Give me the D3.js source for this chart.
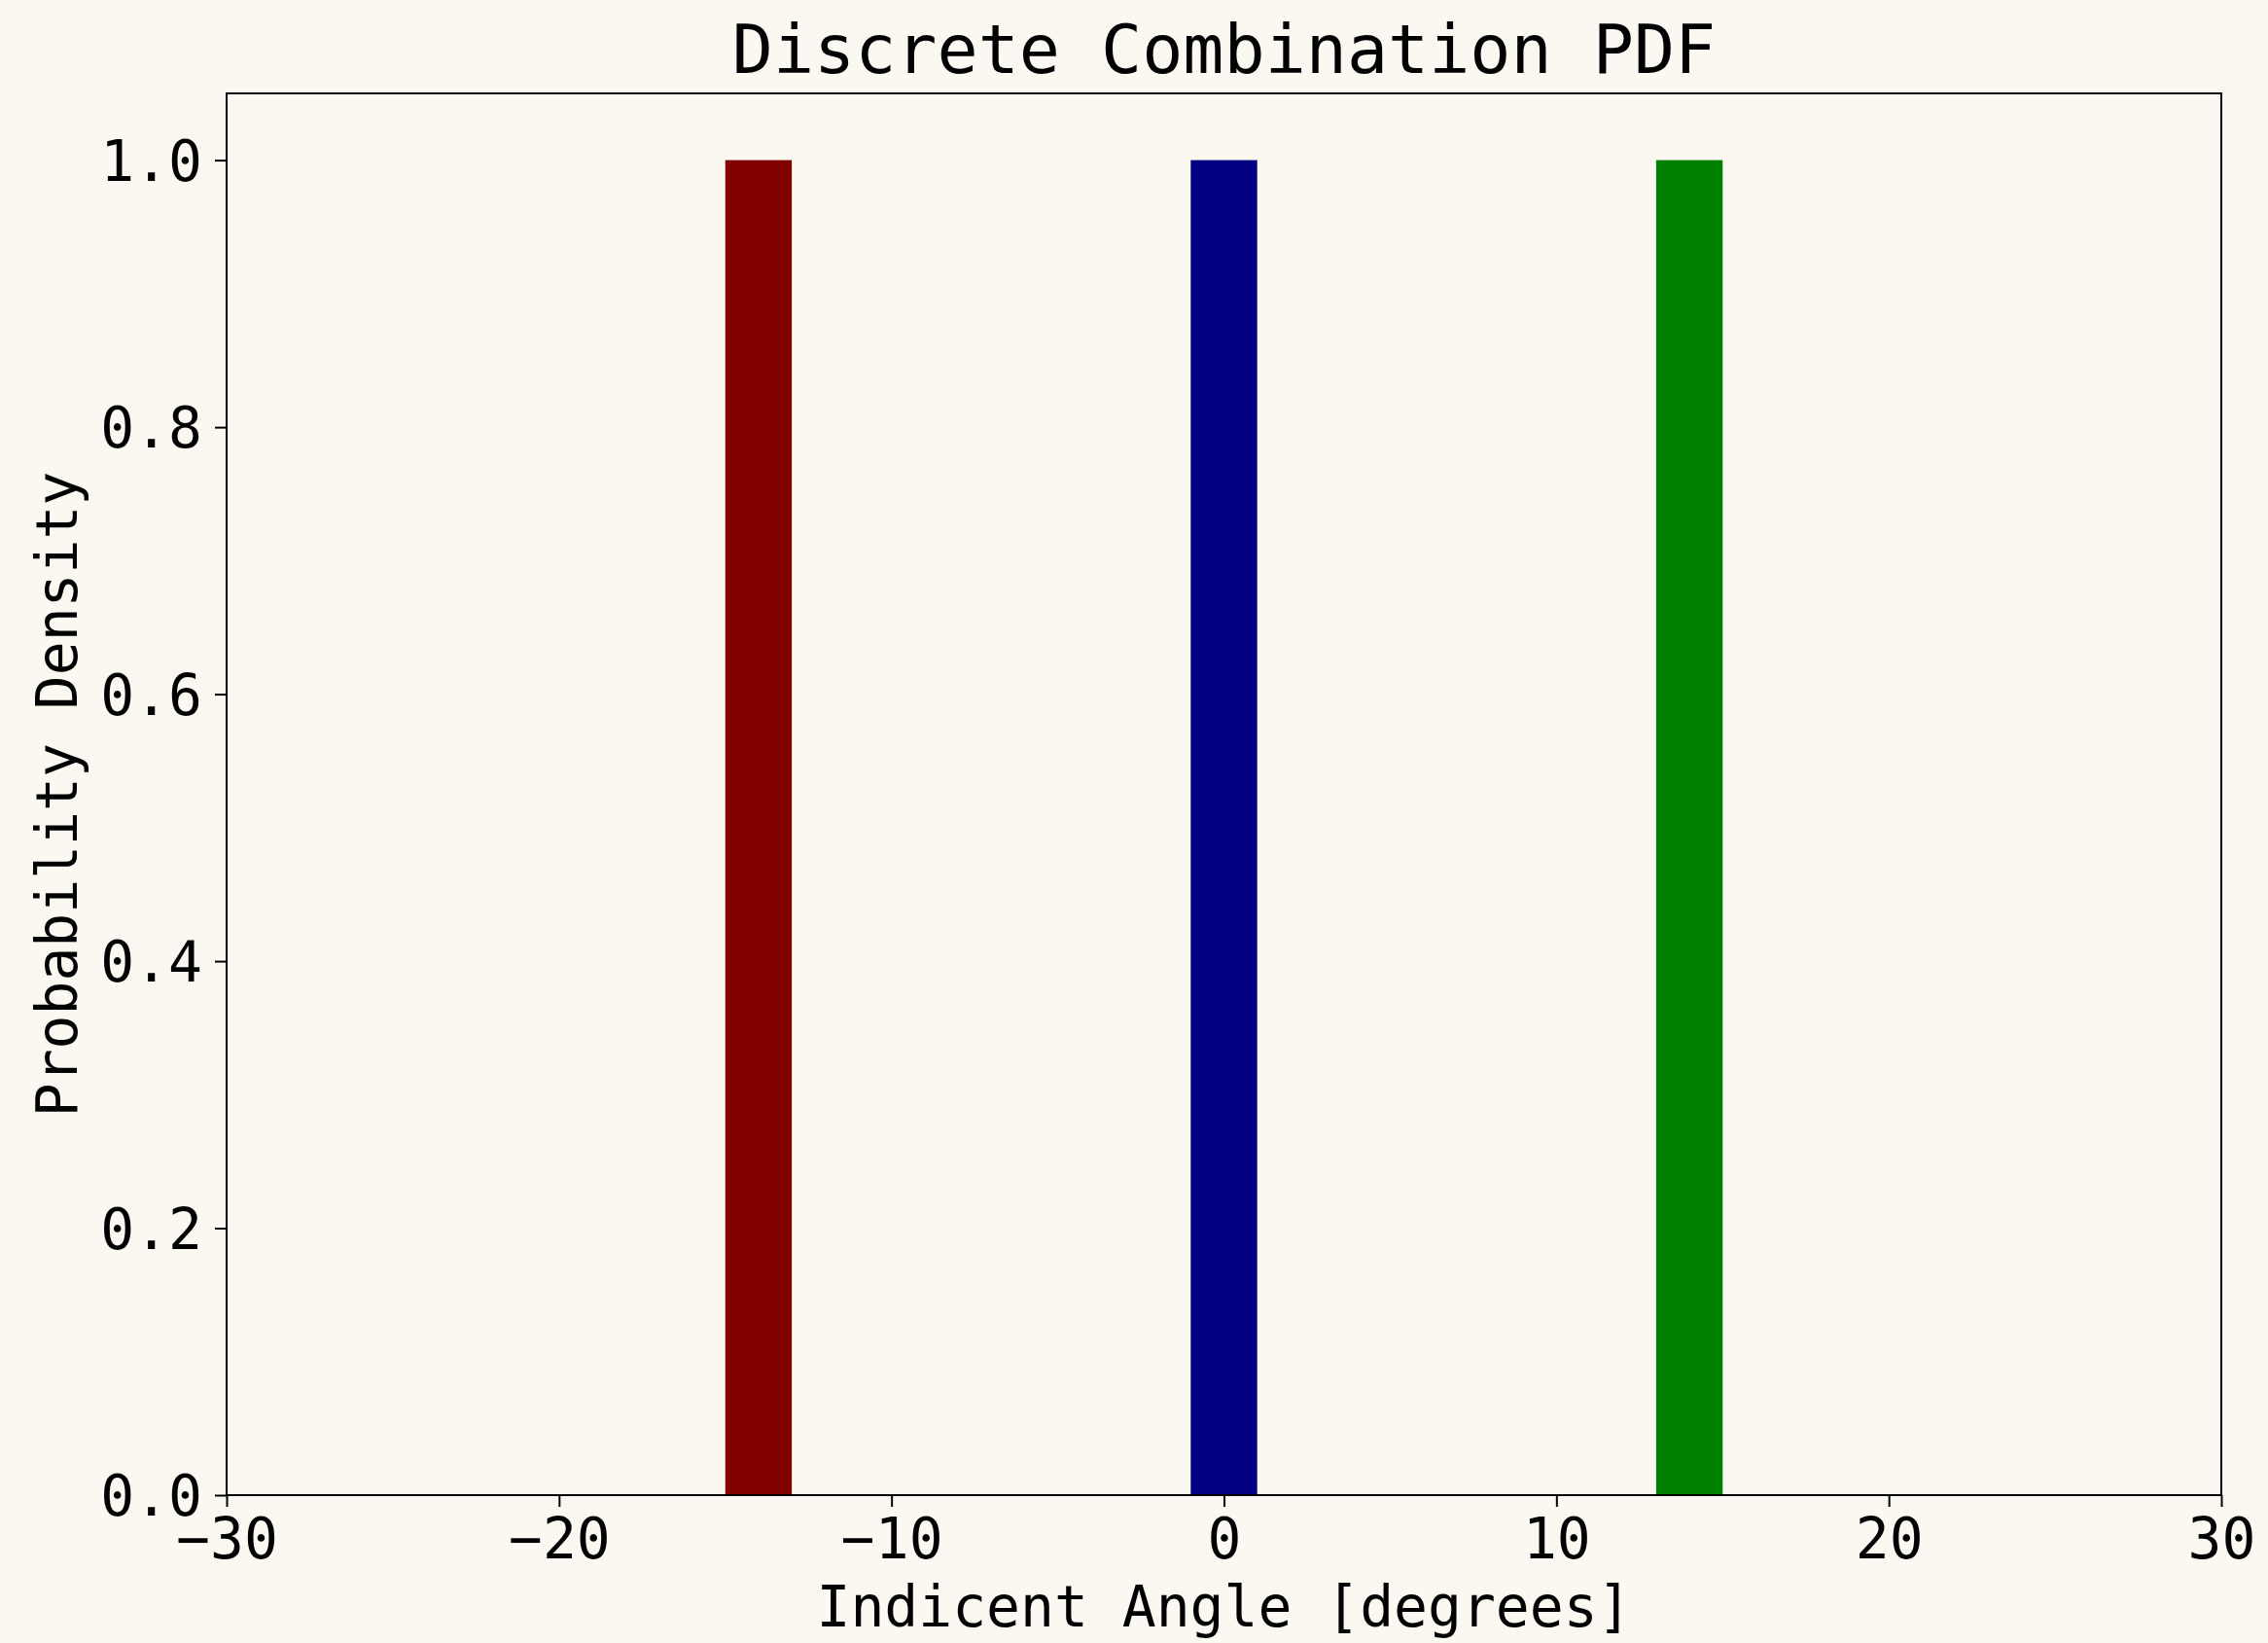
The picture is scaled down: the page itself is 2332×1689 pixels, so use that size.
<!DOCTYPE html>
<html>
<head>
<meta charset="utf-8">
<script src="https://cdn.jsdelivr.net/npm/d3@7"></script>
<style>
  html, body { margin: 0; padding: 0; background: #faf8f1; }
  svg { display: block; }
  text { font-family: "DejaVu Sans Mono", monospace; fill: #000; }
</style>
</head>
<body>
<svg id="chart" width="2332" height="1689"></svg>
<script>
// Discrete angle components: centre angle, bin width, density
const angles = [-14, 0, 14];
const binWidths = [2, 2, 2];
const densities = [1.0, 1.0, 1.0];
const barColors = ["#800000", "#000080", "#008000"];

const xTicks = [-30, -20, -10, 0, 10, 20, 30];
const yTicks = [0.0, 0.2, 0.4, 0.6, 0.8, 1.0];

const titleText = "Discrete Combination PDF";
const xLabelText = "Indicent Angle [degrees]";
const yLabelText = "Probability Density";

const W = 2332, H = 1689;
const margin = { left: 233, right: W - 2284, top: 96, bottom: H - 1537 };
const iw = W - margin.left - margin.right;
const ih = H - margin.top - margin.bottom;

const svg = d3.select("#chart");
svg.append("rect").attr("width", W).attr("height", H).attr("fill", "#faf8f1");

const x = d3.scaleLinear().domain([-30, 30]).range([0, iw]);
const y = d3.scaleLinear().domain([0, 1.05]).range([ih, 0]);

const g = svg.append("g").attr("transform", `translate(${margin.left},${margin.top})`);

// bars
const bars = angles.map((a, i) => ({ a, w: binWidths[i], d: densities[i], c: barColors[i] }));
g.selectAll("rect.bar").data(bars).enter().append("rect")
  .attr("class", "bar")
  .attr("x", d => x(d.a - d.w / 2))
  .attr("width", d => x(d.a + d.w / 2) - x(d.a - d.w / 2))
  .attr("y", d => y(d.d))
  .attr("height", d => y(0) - y(d.d))
  .attr("fill", d => d.c);

// axes
const xAxis = d3.axisBottom(x).tickValues(xTicks).tickSize(12).tickPadding(12)
  .tickFormat(d => d < 0 ? "\u2212" + Math.abs(d) : String(d));
const yAxis = d3.axisLeft(y).tickValues(yTicks).tickSize(12).tickPadding(13)
  .tickFormat(d3.format(".1f"));

const gx = g.append("g").attr("transform", `translate(0,${ih})`).call(xAxis);
const gy = g.append("g").call(yAxis);
[gx, gy].forEach(a => {
  a.select(".domain").remove();
  a.selectAll(".tick line").attr("stroke", "#000").attr("stroke-width", 2);
  a.selectAll(".tick text").attr("font-size", 58).attr("font-family", "DejaVu Sans Mono");
});
gx.selectAll(".tick text").attr("dy", "0.71em");
gy.selectAll(".tick text").attr("dy", "0.36em");

// frame
g.append("rect").attr("x", 0).attr("y", 0).attr("width", iw).attr("height", ih)
  .attr("fill", "none").attr("stroke", "#000").attr("stroke-width", 2);

// title and axis labels
svg.append("text").attr("x", margin.left + iw / 2).attr("y", 75)
  .attr("text-anchor", "middle").attr("font-size", 70).text(titleText);
svg.append("text").attr("x", margin.left + iw / 2).attr("y", 1672)
  .attr("text-anchor", "middle").attr("font-size", 58).text(xLabelText);
svg.append("text").attr("transform", `translate(79,${margin.top + ih / 2}) rotate(-90)`)
  .attr("text-anchor", "middle").attr("font-size", 58).text(yLabelText);
</script>
</body>
</html>
